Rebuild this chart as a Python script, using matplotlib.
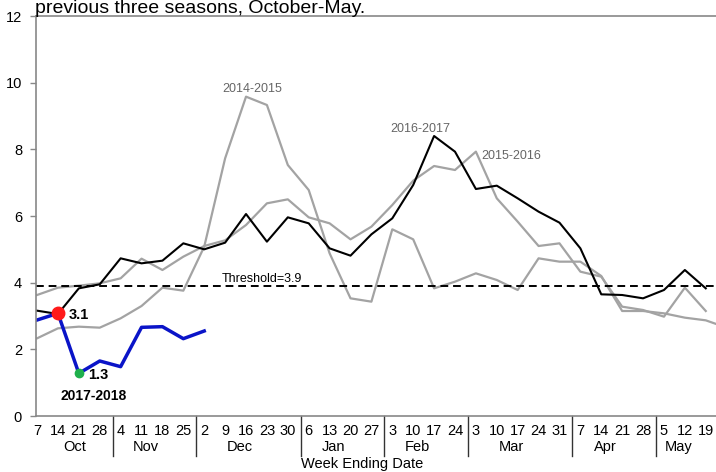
import numpy as np
import matplotlib
matplotlib.use("Agg")
import matplotlib.pyplot as plt
import matplotlib.transforms as mtransforms

plt.rcParams['font.family'] = ['Liberation Sans', 'DejaVu Sans']

# week ending dates, October to May
months = ['Oct', 'Nov', 'Dec', 'Jan', 'Feb', 'Mar', 'Apr', 'May']
week_days = [[7, 14, 21, 28], [4, 11, 18, 25], [2, 9, 16, 23, 30],
             [6, 13, 20, 27], [3, 10, 17, 24], [3, 10, 17, 24, 31],
             [7, 14, 21, 28], [5, 12, 19]]

s_2014_2015 = [2.33, 2.63, 2.68, 2.65, 2.93, 3.30, 3.85, 3.76, 5.08, 7.73,
               9.58, 9.33, 7.53, 6.78, 4.88, 3.53, 3.43, 5.60, 5.30, 3.83,
               4.03, 4.28, 4.08, 3.78, 4.73, 4.63, 4.63, 4.20, 3.15, 3.15,
               3.08, 2.95, 2.87, 2.65]
s_2015_2016 = [3.63, 3.85, 3.91, 3.98, 4.13, 4.72, 4.38, 4.78, 5.10, 5.27,
               5.73, 6.38, 6.50, 5.96, 5.78, 5.30, 5.68, 6.33, 7.06, 7.50,
               7.38, 7.93, 6.53, 5.83, 5.10, 5.18, 4.33, 4.18, 3.28, 3.18,
               2.98, 3.85, 3.15]
s_2016_2017 = [3.16, 3.06, 3.83, 3.95, 4.73, 4.58, 4.66, 5.18, 5.00, 5.20,
               6.06, 5.23, 5.96, 5.78, 5.03, 4.81, 5.45, 5.93, 6.93, 8.40,
               7.93, 6.81, 6.91, 6.53, 6.13, 5.80, 5.03, 3.65, 3.63, 3.53,
               3.78, 4.38, 3.83]
s_2017_2018 = [2.88, 3.08, 1.28, 1.65, 1.48, 2.66, 2.68, 2.32, 2.55]
threshold = 3.9

tick_labels = [str(d) for m in week_days for d in m]
n_weeks = len(tick_labels)

fig = plt.figure(figsize=(7.16, 4.72), dpi=100)
ax = fig.add_axes([36 / 716, 56 / 472, 680 / 716, 400 / 472])

gray = '#a3a3a3'
ax.plot(range(len(s_2014_2015)), s_2014_2015, color=gray, lw=1.6)
ax.plot(range(len(s_2015_2016)), s_2015_2016, color=gray, lw=1.6)
ax.plot(range(len(s_2016_2017)), s_2016_2017, color='black', lw=1.5)
ax.plot(range(len(s_2017_2018)), s_2017_2018, color='#0a14c8', lw=2.5)
ax.axhline(threshold, color='black', lw=1.4, ls=(0, (4, 2.5)))

# highlighted points of current season
ax.plot(1, s_2017_2018[1], 'o', color='#ff1a1a', ms=9, zorder=5)
ax.plot(2, s_2017_2018[2], 'o', color='#1fb04c', ms=6, zorder=5)
ax.annotate(f"{s_2017_2018[1]:.1f}", (1, s_2017_2018[1]), xytext=(8, -1),
            textcoords='offset points', va='center', fontsize=10.5, fontweight='bold')
ax.annotate(f"{s_2017_2018[2]:.1f}", (2, s_2017_2018[2]), xytext=(7, -1.5),
            textcoords='offset points', va='center', fontsize=10.5, fontweight='bold')

ax.text(1.1, 0.6, '2017-2018', fontsize=10, fontweight='bold', va='center')
ax.text(8.85, 9.81, '2014-2015', fontsize=9, color='#666666', va='center')
ax.text(16.9, 8.61, '2016-2017', fontsize=9, color='#666666', va='center')
ax.text(21.24, 7.8, '2015-2016', fontsize=9, color='#666666', va='center')
ax.text(8.85, 4.1, f'Threshold={threshold}', fontsize=9, va='center')

ax.set_xlim(-0.05, 32.49)
ax.set_ylim(0, 12)
ax.set_yticks(range(0, 13, 2))
ax.tick_params(axis='y', length=4, width=1, color='#888888', labelsize=10.5, pad=6)
ax.set_xticks(range(n_weeks))
ax.set_xticklabels(tick_labels, fontsize=10.5)
ax.tick_params(axis='x', length=0, pad=6)

for side in ['left', 'bottom', 'top']:
    ax.spines[side].set_color('#888888')
    ax.spines[side].set_linewidth(1.2)
ax.spines['right'].set_visible(False)

# month groups under the week labels
trans = mtransforms.blended_transform_factory(ax.transData, ax.transAxes)
start = 0
for i, (name, m) in enumerate(zip(months, week_days)):
    if i > 0:
        ax.plot([start - 0.38] * 2, [0, -0.1], transform=trans, color='#333333',
                lw=1, clip_on=False)
    shift = 0.3 if i == 0 else -0.3
    ax.text(start + (len(m) - 1) / 2 + shift, -0.078, name, transform=trans,
            ha='center', va='center', fontsize=10.5)
    start += len(m)

fig.text(0.5 * (36 + 716) / 716 - 0.02, 8 / 472, 'Week Ending Date',
         ha='center', va='center', fontsize=10.5)
fig.text(35 / 716, 1 - 13 / 472, 'previous three seasons, October-May.',
         ha='left', va='baseline', fontsize=14)

fig.savefig('out.png', dpi=100)
